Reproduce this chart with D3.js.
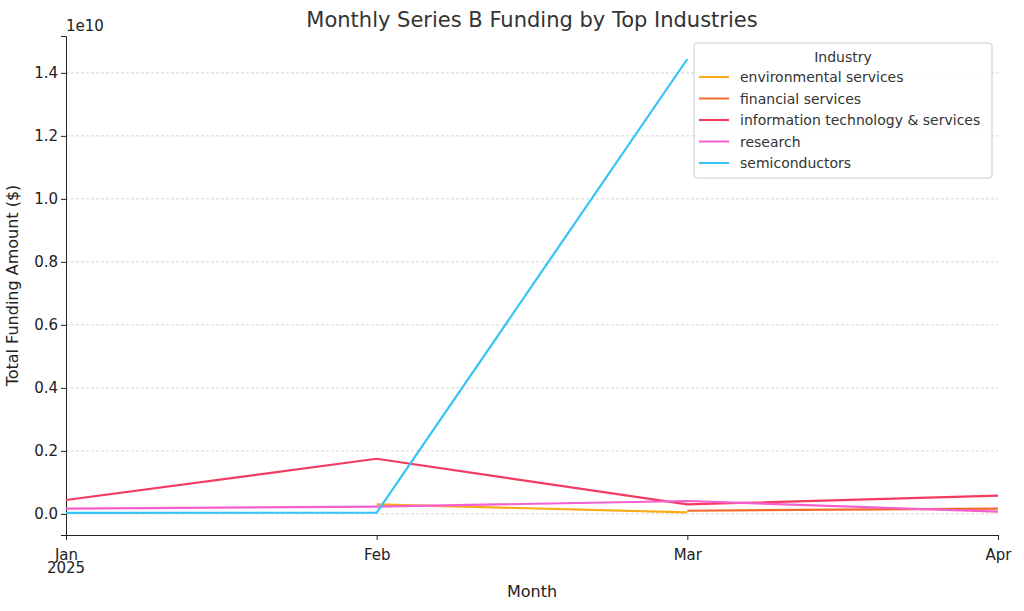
<!DOCTYPE html>
<html><head><meta charset="utf-8">
<script src="https://cdn.jsdelivr.net/npm/d3@7"></script>
<style>body{margin:0;background:#fff;font-family:"DejaVu Sans",sans-serif;}</style>
</head><body><div id="chart"></div>
<script>
const width = 1024, height = 611,
      margin = {top: 36, right: 26, bottom: 76, left: 66};
const innerWidth = width - margin.left - margin.right,
      innerHeight = height - margin.top - margin.bottom;

// data (values in $)
const months = ["Jan", "Feb", "Mar", "Apr"];
const industries = ["environmental services", "financial services", "information technology & services", "research", "semiconductors"];
const colors = ["#fbaa18", "#f26b2a", "#f23b5e", "#f55fcf", "#36c3f6"];
const envServices = [null, 3.0e8, 5e7, null];
const finServices = [null, null, 1.0e8, 1.7e8];
const itServices = [4.4e8, 1.75e9, 3.0e8, 5.8e8];
const research = [1.7e8, 2.3e8, 4.1e8, 0.7e8];
const semis = [3e7, 4e7, 1.444e10, null];
const series = [envServices, finServices, itServices, research, semis];
const yTicks = [0, 0.2, 0.4, 0.6, 0.8, 1.0, 1.2, 1.4];

const svg = d3.select("#chart").append("svg")
  .attr("width", width).attr("height", height)
  .append("g").attr("transform", "translate(" + margin.left + "," + margin.top + ")");

const xScale = d3.scalePoint().domain(months).range([0, innerWidth]);
const yScale = d3.scaleLinear().domain([-0.067e10, 1.517e10]).range([innerHeight, 0]);

// grid
svg.selectAll(".grid").data(yTicks).enter().append("line")
  .attr("x1", 0).attr("x2", innerWidth)
  .attr("y1", d => yScale(d * 1e10)).attr("y2", d => yScale(d * 1e10))
  .attr("stroke", "#ccc").attr("stroke-dasharray", "3,2").attr("stroke-width", 0.8);

const yAxis = svg.append("g").call(d3.axisLeft(yScale).tickValues(yTicks.map(d => d * 1e10))
  .tickFormat(d => d3.format(".1f")(d / 1e10)).tickSize(5));
const xAxis = svg.append("g").attr("transform", "translate(0," + innerHeight + ")")
  .call(d3.axisBottom(xScale).tickSize(5));
[xAxis, yAxis].forEach(a => {
  a.attr("font-size", 15).attr("font-family", "DejaVu Sans");
  a.selectAll("text").attr("fill", "#222");
  a.select(".domain").attr("stroke", "#222");
  a.selectAll(".tick line").attr("stroke", "#222");
});
xAxis.selectAll("text").attr("dy", "1.1em");
xAxis.append("text").attr("x", 0).attr("y", 38).attr("text-anchor", "middle")
  .attr("fill", "#222").text("2025");

svg.append("text").attr("x", 0).attr("y", -5).attr("font-size", 15).attr("fill", "#222").text("1e10");

const line = d3.line().defined(d => d.v != null).x(d => xScale(d.m)).y(d => yScale(d.v));
series.forEach((s, i) => {
  svg.append("path").datum(s.map((v, j) => ({m: months[j], v: v})))
    .attr("fill", "none").attr("stroke", colors[i]).attr("stroke-width", 2.2).attr("d", line);
});

// labels
svg.append("text").attr("x", innerWidth / 2).attr("y", -9).attr("text-anchor", "middle")
  .attr("font-size", 21).attr("fill", "#333").text("Monthly Series B Funding by Top Industries");
svg.append("text").attr("x", innerWidth / 2).attr("y", innerHeight + 62).attr("text-anchor", "middle")
  .attr("font-size", 16).attr("fill", "#222").text("Month");
svg.append("text").attr("transform", "rotate(-90)").attr("x", -innerHeight / 2).attr("y", -48)
  .attr("text-anchor", "middle").attr("font-size", 16).attr("fill", "#222").text("Total Funding Amount ($)");

// legend
const lg = svg.append("g").attr("transform", "translate(" + (694 - margin.left) + "," + (43 - margin.top) + ")");
lg.append("rect").attr("width", 298).attr("height", 135).attr("rx", 3)
  .attr("fill", "#fff").attr("fill-opacity", 0.85).attr("stroke", "#ccc");
lg.append("text").attr("x", 149).attr("y", 19).attr("text-anchor", "middle").attr("font-size", 14)
  .attr("fill", "#333").text("Industry");
industries.forEach((name, i) => {
  const y = 34 + i * 21.5;
  lg.append("line").attr("x1", 5).attr("x2", 35).attr("y1", y).attr("y2", y)
    .attr("stroke", colors[i]).attr("stroke-width", 2);
  lg.append("text").attr("x", 46).attr("y", y + 5).attr("font-size", 14).attr("fill", "#333").text(name);
});
</script></body></html>
